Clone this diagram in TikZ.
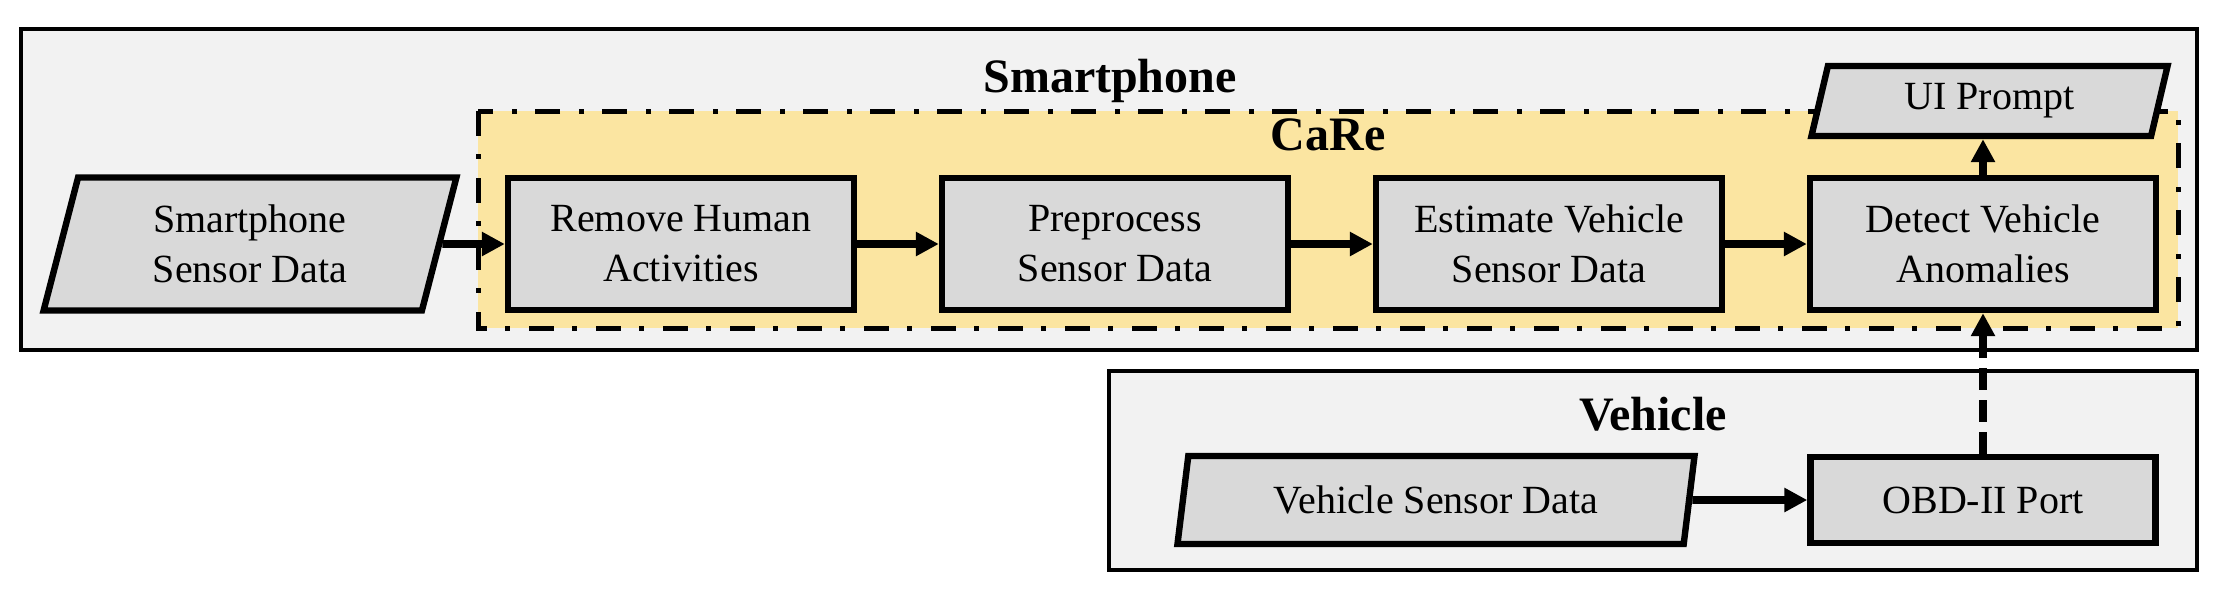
\documentclass[tikz,border=0pt]{standalone}
\usepackage{fontspec}
\setmainfont{Liberation Serif}
\usetikzlibrary{arrows.meta,shapes.geometric}

\definecolor{framegray}{HTML}{F2F2F2}
\definecolor{boxgray}{HTML}{D9D9D9}
\definecolor{caregold}{HTML}{FBE5A1}

\begin{document}
\begin{tikzpicture}[x=0.25pt,y=0.25pt,yscale=-1,
  stepbox/.style={draw,line width=1.6pt,fill=boxgray,minimum width=86.5pt,minimum height=33pt,
    align=center,inner sep=0pt,font=\fontsize{10}{12.5}\selectfont},
  databox/.style={stepbox,trapezium,trapezium left angle=76,trapezium right angle=104,trapezium stretches=true},
  flow/.style={line width=1.9pt,-{Triangle[length=5.75pt,width=5.75pt]}},
  grouptitle/.style={font=\fontsize{12}{14}\selectfont\bfseries,anchor=base}]
\useasboundingbox (0,0) rectangle (2218,602);

%Smartphone frame
\draw [line width=0.8pt,fill=framegray] (21,29) rectangle (2197,350);
%CaRe frame
\draw [line width=1.25pt,fill=caregold,dash pattern=on 6.25pt off 4.5pt on 1.25pt off 4.75pt] (478,111) rectangle (2178,328);
%Vehicle frame
\draw [line width=0.8pt,fill=framegray] (1109,371) rectangle (2197,570);

% Text Node
\node [grouptitle] (phone) at (1110,92) {Smartphone};
\node [grouptitle] (care) at (1328,150) {CaRe};
\node [grouptitle] (car) at (1653,430) {Vehicle};

%Steps
\node [databox,minimum width=103.5pt,minimum height=33.25pt] (sdata) at (250,244) {Smartphone\\Sensor Data};
\node [stepbox] (remove) at (681,244) {Remove Human\\Activities};
\node [stepbox] (prep) at (1115,244) {Preprocess\\Sensor Data};
\node [stepbox] (est) at (1549,244) {Estimate Vehicle\\Sensor Data};
\node [stepbox] (detect) at (1983,244) {Detect Vehicle\\Anomalies};
\node [databox,minimum width=89.25pt,minimum height=17.5pt] (ui) at (1989.5,101) {UI Prompt};
\node [databox,minimum width=129.5pt,minimum height=22pt] (vdata) at (1436,500) {Vehicle Sensor Data};
\node [stepbox,minimum width=86.25pt,minimum height=21.5pt] (obd) at (1983,500) {OBD-II Port};

%Arrows
\draw [flow] (sdata) -- (remove);
\draw [flow] (remove) -- (prep);
\draw [flow] (prep) -- (est);
\draw [flow] (est) -- (detect);
\draw [flow] (detect) -- (detect |- ui.south);
\draw [flow] (vdata) -- (obd);
\draw [flow,dash pattern=on 5.5pt off 2.5pt] (obd) -- (detect);
\end{tikzpicture}
\end{document}
